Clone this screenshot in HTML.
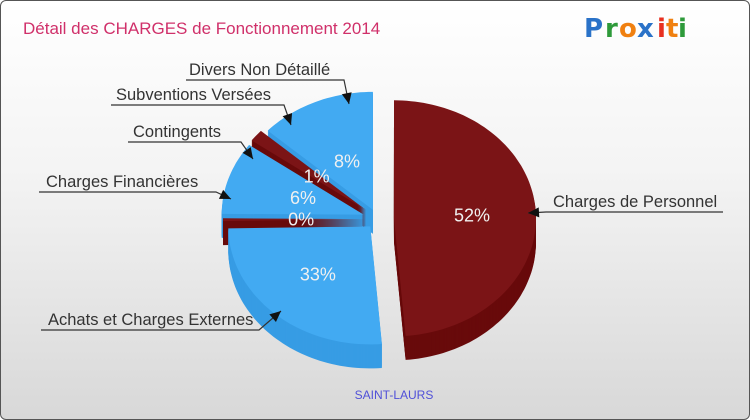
<!DOCTYPE html>
<html><head><meta charset="utf-8">
<style>
html,body{margin:0;padding:0;}
body{width:750px;height:420px;overflow:hidden;font-family:"Liberation Sans","DejaVu Sans",sans-serif;}
#frame{position:absolute;left:0;top:0;width:748px;height:418px;border:1px solid #555;border-radius:6px;background:linear-gradient(#ffffff 0%,#f4f4f4 40%,#d8d8d8 100%);overflow:hidden;}
svg{position:absolute;left:0;top:0;}
</style></head><body>
<div id="frame">
<svg id="chart" width="750" height="420">
  <text x="22" y="33" font-size="17" fill="#d0306a">Détail des CHARGES de Fonctionnement 2014</text>
  <g font-size="26" font-weight="bold" font-family="'DejaVu Sans',sans-serif">
    <text x="583" y="36" fill="#2a72c8">P</text><text x="604" y="36" fill="#2e9a3a">r</text><text x="618" y="36" fill="#f08010">o</text><text x="636" y="36" fill="#2a72c8">x</text><text x="656" y="36" fill="#e83020">i</text><text x="665" y="36" fill="#f08010">t</text><text x="677" y="36" fill="#2e9a3a">i</text>
  </g>
  <g id="slices"></g>
  <g id="labels"></g>
  <text x="393" y="398" font-size="12" fill="#5050d8" text-anchor="middle">SAINT-LAURS</text>
</svg>
</div>
<script>
const categories = ["Charges de Personnel","Achats et Charges Externes","Charges Financières","Contingents","Subventions Versées","Divers Non Détaillé"];
const values = [52, 33, 0.4, 6, 1, 8];
const percentLabels = ["52%","33%","0%","6%","1%","8%"];

const NS="http://www.w3.org/2000/svg";
const cx=376, cy=218, rx=142, ry=118, depth=24;
const topCol=["#7b1416","#42aaf2","#7b1416","#42aaf2","#7b1416","#42aaf2"];
const sideCol=["#680a0b","#379ce4","#680a0b","#379ce4","#680a0b","#379ce4"];
const explode=[17,10,12,14,14,10];
const total=values.reduce((a,b)=>a+b,0);
const projF=[0,0.52,0.85,1], projA=[-90,86,180,270];
function proj(f){for(let k=1;k<projF.length;k++){if(f<=projF[k]){const t=(f-projF[k-1])/(projF[k]-projF[k-1]);return (projA[k-1]+t*(projA[k]-projA[k-1]))*Math.PI/180;}}return projA[projA.length-1]*Math.PI/180;}
function pt(a,ox,oy,k){return [cx+ox+rx*k*Math.cos(a), cy+oy+ry*k*Math.sin(a)];}
function slicePath(a0,a1,ox,oy,dy){
  const c=[cx+ox,cy+oy+dy];
  let d="M"+c[0]+","+c[1];
  const n=Math.max(2,Math.ceil((a1-a0)/0.03));
  for(let i=0;i<=n;i++){const a=a0+(a1-a0)*i/n;d+=" L"+(c[0]+rx*Math.cos(a)).toFixed(1)+","+(c[1]+ry*Math.sin(a)).toFixed(1);}
  return d+" Z";
}
const sl=[];let cum=0;
values.forEach((v,i)=>{const a0=proj(cum/total);cum+=v;const a1=proj(cum/total);const m=(a0+a1)/2;
  sl.push({i,a0,a1,m,ox:explode[i]*Math.cos(m),oy:explode[i]*Math.sin(m)});});
const g=document.getElementById("slices");
const order=sl.slice().sort((a,b)=>Math.sin(a.m)-Math.sin(b.m));
order.forEach(s=>{
  const grp=document.createElementNS(NS,"g");
  
  
  for(let d=depth;d>0;d-=1){
    const p=document.createElementNS(NS,"path");
    p.setAttribute("d",slicePath(s.a0,s.a1,s.ox,s.oy,d));
    p.setAttribute("fill",sideCol[s.i]);
    grp.appendChild(p);
  }
  const t=document.createElementNS(NS,"path");
  t.setAttribute("d",slicePath(s.a0,s.a1,s.ox,s.oy,0));
  t.setAttribute("fill",topCol[s.i]);
  grp.appendChild(t);
  g.appendChild(grp);
});
const lg=document.getElementById("labels");
sl.forEach(s=>{
  const k = values[s.i]>20?0.55:0.45;
  const p=pt(s.m,s.ox,s.oy,k);
  const t=document.createElementNS(NS,"text");
  
  
  t.setAttribute("x",p[0]);t.setAttribute("y",p[1]+6);
  t.setAttribute("text-anchor","middle");t.setAttribute("font-size","18");t.setAttribute("fill","#f0f0f0");
  t.textContent=percentLabels[s.i];lg.appendChild(t);
});
const leaders=[
  [552,206,722,545,527,212],
  [47,324,40,258,280,310],
  [45,186,38,215,230,198],
  [132,136,127,240,252,158],
  [115,99,110,283,290,124],
  [188,74,185,343,348,103]
];
leaders.forEach((L,i)=>{
  const t=document.createElementNS(NS,"text");
  
  
  t.setAttribute("x",L[0]);t.setAttribute("y",L[1]);t.setAttribute("font-size","16.5");t.setAttribute("fill","#333");
  t.textContent=categories[i];lg.appendChild(t);
  const ly=L[1]+5;
  const pl=document.createElementNS(NS,"polyline");
  
  
  pl.setAttribute("points",`${L[2]},${ly} ${L[3]},${ly} ${L[4]},${L[5]}`);
  pl.setAttribute("fill","none");pl.setAttribute("stroke","#333");pl.setAttribute("stroke-width","1.2");
  lg.appendChild(pl);
  const dx=L[4]-L[3],dy=L[5]-ly,len=Math.hypot(dx,dy),ux=dx/len,uy=dy/len;
  const bx=L[4]-ux*11,by=L[5]-uy*11;
  const ah=document.createElementNS(NS,"polygon");
  
  
  ah.setAttribute("points",`${L[4]},${L[5]} ${bx-uy*5},${by+ux*5} ${bx+uy*5},${by-ux*5}`);
  ah.setAttribute("fill","#111");lg.appendChild(ah);
});
</script>
</body></html>
